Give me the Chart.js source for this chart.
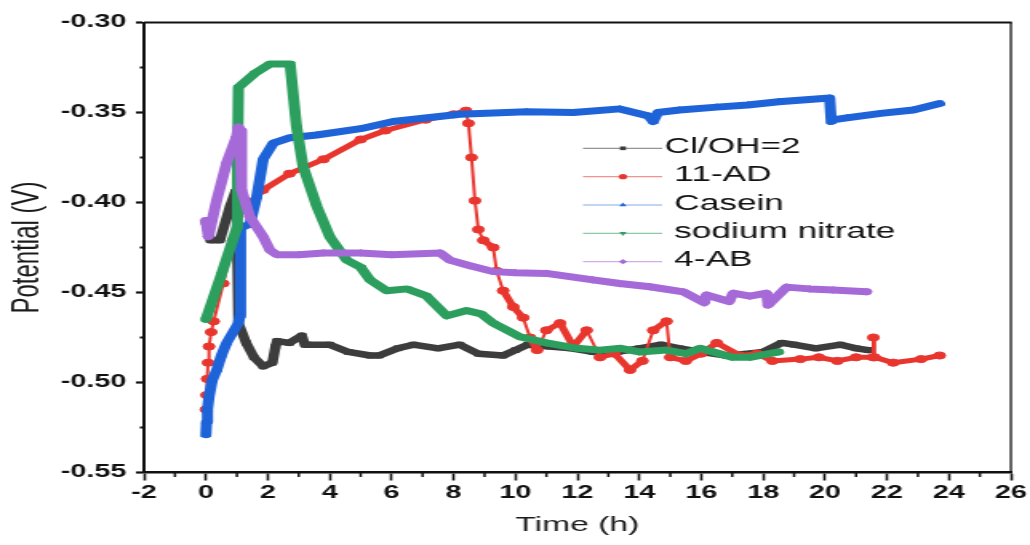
<!DOCTYPE html>
<html><head><meta charset="utf-8">
<script src="https://cdn.jsdelivr.net/npm/chart.js@4.4.1/dist/chart.umd.min.js"></script>
<style>
html,body{margin:0;padding:0;background:#fff;overflow:hidden}
#wrap{width:644px;height:545px;transform:scaleX(1.59938);transform-origin:0 0}
canvas{display:block}
</style></head><body>
<div id="wrap"><canvas id="c" width="644" height="545"></canvas></div>
<script>
// ---------- data ----------
const seriesLabels = ['Cl/OH=2', '11-AD', 'Casein', 'sodium nitrate', '4-AB'];

const timeCl = [0, 0.15, 0.45, 0.78, 0.95, 1.0, 1.05, 1.3, 1.55, 1.85, 2.15, 2.25, 2.3, 2.7, 3.1, 3.2, 3.3, 4.0, 4.6, 5.3, 5.6, 6.2, 6.7, 7.5, 8.2, 8.8, 9.6, 10.0, 10.4, 11.1, 11.8, 12.5, 13.3, 14.0, 14.7, 15.3, 16.0, 16.8, 17.5, 18.0, 18.6, 19.0, 19.7, 20.5, 21.0, 21.4];
const potCl = [-0.411, -0.421, -0.421, -0.402, -0.394, -0.409, -0.467, -0.478, -0.486, -0.491, -0.489, -0.480, -0.477, -0.478, -0.474, -0.479, -0.479, -0.479, -0.483, -0.485, -0.485, -0.481, -0.479, -0.481, -0.479, -0.484, -0.485, -0.482, -0.479, -0.480, -0.481, -0.483, -0.483, -0.481, -0.479, -0.481, -0.483, -0.485, -0.484, -0.483, -0.478, -0.479, -0.481, -0.479, -0.481, -0.482];

const timeAD = [0, 0.02, 0.04, 0.07, 0.1, 0.17, 0.25, 0.56, 0.88, 1.2, 1.85, 2.7, 3.8, 5.0, 5.8, 7.1, 8.0, 8.4, 8.48, 8.58, 8.69, 8.8, 8.96, 9.28, 9.39, 9.6, 9.93, 10.25, 10.47, 10.7, 11.0, 11.44, 11.87, 12.3, 12.73, 13.2, 13.7, 14.1, 14.45, 14.88, 15.0, 15.5, 16.0, 16.5, 17.25, 17.8, 18.3, 19.2, 19.8, 20.4, 21.0, 21.55, 21.56, 21.6, 22.2, 23.1, 23.7];
const potAD = [-0.515, -0.507, -0.498, -0.489, -0.480, -0.472, -0.466, -0.445, -0.421, -0.404, -0.393, -0.384, -0.376, -0.365, -0.360, -0.354, -0.351, -0.349, -0.356, -0.375, -0.399, -0.415, -0.421, -0.425, -0.438, -0.449, -0.458, -0.464, -0.475, -0.482, -0.471, -0.467, -0.480, -0.471, -0.486, -0.484, -0.493, -0.488, -0.471, -0.466, -0.486, -0.488, -0.484, -0.478, -0.485, -0.484, -0.488, -0.487, -0.486, -0.488, -0.486, -0.486, -0.475, -0.486, -0.489, -0.487, -0.485];

const timeCasein = [0, 0.02, 0.05, 0.1, 0.2, 0.35, 0.5, 0.67, 1.05, 1.1, 1.12, 1.42, 1.64, 1.85, 2.18, 2.72, 3.58, 5.0, 6.05, 8.2, 10.36, 11.87, 13.37, 14.3, 14.45, 14.6, 15.3, 16.5, 17.5, 18.5, 20.15, 20.2, 20.3, 20.7, 21.8, 22.85, 23.7];
const potCasein = [-0.529, -0.522, -0.515, -0.508, -0.499, -0.493, -0.485, -0.478, -0.467, -0.463, -0.414, -0.412, -0.397, -0.376, -0.367, -0.364, -0.3625, -0.359, -0.355, -0.351, -0.3496, -0.350, -0.348, -0.352, -0.355, -0.350, -0.3486, -0.347, -0.3458, -0.344, -0.342, -0.355, -0.354, -0.353, -0.3505, -0.3486, -0.345];

const timeNitrate = [0, 0.5, 1.0, 1.02, 1.05, 1.6, 2.07, 2.72, 2.93, 3.14, 3.58, 4.0, 4.55, 5.0, 5.3, 5.84, 6.5, 7.13, 7.78, 8.42, 8.9, 9.28, 10.14, 11.0, 12.0, 12.73, 13.4, 14.0, 14.88, 15.5, 15.96, 17.0, 17.57, 18.5];
const potNitrate = [-0.465, -0.440, -0.414, -0.380, -0.336, -0.328, -0.323, -0.323, -0.358, -0.380, -0.402, -0.419, -0.432, -0.436, -0.443, -0.449, -0.448, -0.452, -0.463, -0.460, -0.462, -0.467, -0.4746, -0.478, -0.481, -0.482, -0.481, -0.483, -0.482, -0.484, -0.481, -0.486, -0.486, -0.483];

const time4AB = [0, 0.08, 0.35, 0.67, 0.99, 1.05, 1.1, 1.15, 1.42, 1.85, 2.07, 2.29, 3.0, 3.8, 5.0, 6.0, 7.56, 7.88, 8.5, 9.28, 10.0, 11.0, 12.5, 13.37, 14.34, 15.42, 16.1, 16.17, 16.9, 17.03, 17.57, 18.11, 18.16, 18.76, 19.5, 20.26, 21.34];
const pot4AB = [-0.410, -0.419, -0.3986, -0.378, -0.3634, -0.358, -0.360, -0.393, -0.408, -0.419, -0.4264, -0.429, -0.429, -0.428, -0.428, -0.429, -0.428, -0.432, -0.435, -0.4384, -0.439, -0.4394, -0.443, -0.445, -0.4468, -0.4496, -0.4557, -0.4514, -0.455, -0.4504, -0.452, -0.4504, -0.457, -0.447, -0.448, -0.4486, -0.4496];

const xTickValues = [-2, 0, 2, 4, 6, 8, 10, 12, 14, 16, 18, 20, 22, 24, 26];
const xTickLabels = ['-2', '0', '2', '4', '6', '8', '10', '12', '14', '16', '18', '20', '22', '24', '26'];
const xMinorTicks = [-1, 1, 3, 5, 7, 9, 11, 13, 15, 17, 19, 21, 23, 25];
const yTickValues = [-0.55, -0.50, -0.45, -0.40, -0.35, -0.30];
const yTickLabels = ['-0.55', '-0.50', '-0.45', '-0.40', '-0.35', '-0.30'];
const yMinorTicks = [-0.525, -0.475, -0.425, -0.375, -0.325];

// ---------- styling ----------
const FONT = "'Liberation Sans', Arial, Helvetica, sans-serif";
const colors = ['#3d3d3d', '#e8362f', '#1e63d8', '#2c9e5e', '#a66ad8'];
const styles = ['rect', 'circle', 'triangle', 'triangle', 'rectRot'];
const rotations = [0, 0, 0, 180, 0];
const widths = [6.5, 5, 7, 7, 7];

const pts = (t, v) => t.map((x, i) => ({x: x, y: v[i]}));
const seriesData = [pts(timeCl, potCl), pts(timeAD, potAD), pts(timeCasein, potCasein), pts(timeNitrate, potNitrate), pts(time4AB, pot4AB)];

const datasets = seriesData.map((d, i) => ({
  label: seriesLabels[i],
  data: d,
  showLine: true,
  borderColor: colors[i],
  backgroundColor: colors[i],
  borderWidth: widths[i],
  pointRadius: i === 1 ? 3.6 : 3.4,
  pointBorderWidth: 1,
  pointStyle: styles[i],
  pointRotation: rotations[i],
  borderJoinStyle: 'round',
  borderCapStyle: 'round',
  order: 5 - i,
  segment: i === 1 ? {
    borderWidth: c => {
      const dy = Math.abs(c.p1.y - c.p0.y), dx = Math.abs(c.p1.x - c.p0.x);
      return dy > 3 * dx ? 2 : 5;
    }
  } : undefined
}));

const framePlugin = {
  id: 'frame',
  afterDraw(chart) {
    const {ctx, chartArea: a, scales: {x, y}} = chart;
    ctx.save();
    ctx.strokeStyle = '#111';
    ctx.lineWidth = 2.2;
    ctx.beginPath(); ctx.moveTo(a.left, a.top); ctx.lineTo(a.right + 0.6, a.top); ctx.stroke();
    ctx.lineWidth = 1.3;
    ctx.beginPath(); ctx.moveTo(a.right, a.top); ctx.lineTo(a.right, a.bottom); ctx.stroke();
    // minor ticks
    ctx.lineWidth = 1.5;
    xMinorTicks.forEach(v => {
      const px = x.getPixelForValue(v);
      ctx.beginPath(); ctx.moveTo(px, a.bottom); ctx.lineTo(px, a.bottom + 4.5); ctx.stroke();
    });
    ctx.lineWidth = 2;
    yMinorTicks.forEach(v => {
      const py = y.getPixelForValue(v);
      ctx.beginPath(); ctx.moveTo(a.left - 2.6, py); ctx.lineTo(a.left, py); ctx.stroke();
    });
    // legend
    const lx0 = 364.5, lx1 = 414, mx = 389.5, tx = 415.5, ly0 = 148.3, dy = 28.35;
    ctx.font = '22px ' + FONT;
    ctx.textBaseline = 'middle';
    ctx.textAlign = 'left';
    seriesLabels.forEach((lab, i) => {
      const yy = ly0 + i * dy;
      ctx.globalAlpha = 0.55;
      ctx.strokeStyle = colors[i];
      ctx.lineWidth = 1.2;
      ctx.beginPath(); ctx.moveTo(lx0, yy); ctx.lineTo(lx1, yy); ctx.stroke();
      ctx.globalAlpha = 1;
      ctx.fillStyle = colors[i];
      Chart.helpers.drawPoint(ctx, {pointStyle: styles[i], radius: 2.6, rotation: rotations[i], borderWidth: 0}, mx, yy);
      ctx.fillStyle = '#111';
      ctx.fillText((i === 0 ? '' : ' ') + lab, tx, yy - 1.5);
    });
    ctx.restore();
  }
};

new Chart(document.getElementById('c'), {
  type: 'scatter',
  data: {datasets},
  plugins: [framePlugin],
  options: {
    responsive: false,
    animation: false,
    devicePixelRatio: 1,
    layout: {padding: {top: 22.5, right: 12, bottom: 0, left: 0}},
    plugins: {legend: {display: false}, tooltip: {enabled: false}},
    scales: {
      x: {
        type: 'linear', min: -2, max: 26,
        afterBuildTicks: s => { s.ticks = xTickValues.map(v => ({value: v})); },
        afterFit: s => { s.height = 72.5; s.paddingLeft = 0; s.paddingRight = 0; },
        ticks: {
          callback: (v) => xTickLabels[xTickValues.indexOf(v)],
          font: {family: FONT, size: 18, weight: 'bold'}, color: '#111',
          padding: 2, maxRotation: 0, autoSkip: false
        },
        grid: {display: true, drawOnChartArea: false, drawTicks: true, tickLength: 8, tickWidth: 1.6, tickColor: '#111'},
        border: {display: true, color: '#111', width: 2.6},
        title: {display: true, text: 'Time (h)', color: '#1a1a1a', font: {family: FONT, size: 21}, padding: {top: 0, bottom: 7}}
      },
      y: {
        type: 'linear', min: -0.55, max: -0.30,
        afterBuildTicks: s => { s.ticks = yTickValues.map(v => ({value: v})); },
        afterFit: s => { s.width = 90; s.paddingTop = 0; s.paddingBottom = 0; },
        ticks: {
          callback: (v) => yTickLabels[yTickValues.findIndex(t => Math.abs(t - v) < 1e-9)],
          font: {family: FONT, size: 18, weight: 'bold'}, color: '#111',
          padding: 6, autoSkip: false
        },
        grid: {display: true, drawOnChartArea: false, drawTicks: true, tickLength: 5, tickWidth: 2.2, tickColor: '#111'},
        border: {display: true, color: '#111', width: 2},
        title: {display: true, text: 'Potential (V)', color: '#1a1a1a', font: {family: FONT, size: 24}, padding: {top: 3, bottom: 0}}
      }
    }
  }
});
</script></body></html>
